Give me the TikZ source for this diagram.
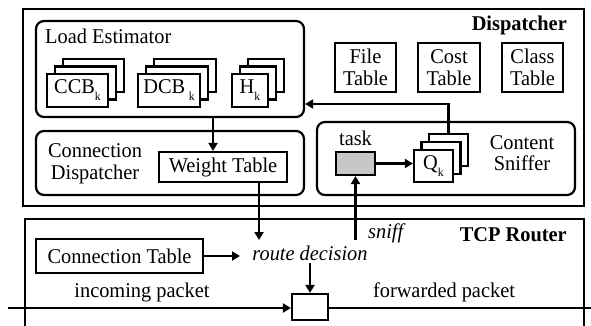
\documentclass[tikz,border=0pt]{standalone}
\usepackage{fontspec}
\setmainfont[FakeStretch=0.97]{Liberation Serif}
\usetikzlibrary{arrows.meta}
\newcommand{\subk}{\raisebox{-7pt}{\fontsize{12}{12}\selectfont k}}
\tikzset{
  every node/.style={font=\fontsize{21}{21.5}\selectfont},
  box/.style={draw, line width=2.2pt, inner sep=0pt, fill=white, align=center},
  rbox/.style={box, rounded corners=8pt},
  lbl/.style={inner sep=0pt, align=center},
  arr/.style={-{Triangle[length=8pt,width=9pt]}, line width=2.2pt},
  ln/.style={line width=2.2pt},
}
\begin{document}
\begin{tikzpicture}[x=1pt,y=-1pt]
\useasboundingbox (0,0) rectangle (591,325);
% Dispatcher
\node[box, minimum width=561pt, minimum height=197pt] (disp) at (303.5,107.5) {};
\node[lbl, anchor=base east, font=\fontsize{21}{21.5}\selectfont\bfseries] (disptxt) at (567,30) {Dispatcher};
% Load estimator
\node[rbox, minimum width=268pt, minimum height=96pt] (load) at (170,69) {};
\node[lbl, anchor=base west] (loadtxt) at (45,43) {Load Estimator};
% stacked boxes
\foreach \name/\cx/\w/\t in {ccb/77.5/61/{CCB\subk}, dcb/169/62/{DCB\,\subk}, hk/250/36/{H\subk}}{
  \node[box, minimum width=\w pt, minimum height=33pt] (\name3) at (\cx+16,75.5) {};
  \node[box, minimum width=\w pt, minimum height=33pt] (\name2) at (\cx+8,83) {};
  \node[box, minimum width=\w pt, minimum height=33pt] (\name1) at (\cx,90.5) {\t};
}
% tables
\node[box, minimum width=61pt, minimum height=49pt] (file) at (365.5,67.5) {File\\Table};
\node[box, minimum width=62pt, minimum height=49pt] (cost) at (449,67.5) {Cost\\Table};
\node[box, minimum width=61pt, minimum height=49pt] (class) at (532.5,67.5) {Class\\Table};
% Connection dispatcher
\node[rbox, minimum width=268pt, minimum height=64pt] (conn) at (170,163) {};
\node[lbl] (conntxt) at (95,164) {Connection\\Dispatcher};
\node[box, minimum width=128pt, minimum height=30pt] (wt) at (223,167) {Weight Table};
% Content sniffer
\node[rbox, minimum width=258pt, minimum height=73pt] (sniff) at (446,158.5) {};
\node[lbl] (snifftxt) at (522,153) {Content\\Sniffer};
\node[lbl, anchor=base] (tasktxt) at (355.5,145) {task};
\node[box, fill=black!22, minimum width=39pt, minimum height=23pt] (task) at (355.5,163.5) {};
\node[box, minimum width=39pt, minimum height=32pt] (q3) at (448.5,150) {};
\node[box, minimum width=39pt, minimum height=32pt] (q2) at (441,158) {};
\node[box, minimum width=39pt, minimum height=32pt] (q1) at (433.5,166) {Q\subk};
% arrows inside dispatcher
\draw[arr] (load.south -| 213,0) -- (wt.north -| 213,0);
\draw[arr] (task.east) -- (task.east -| q1.west);
\coordinate (qturn) at (448.5,104);
\draw[arr] (q3.north) -- (qturn) -- (qturn -| load.east);
% TCP router
\draw[ln] (25,326) -- (25,219) -- (584,219) -- (584,326);
\node[lbl, anchor=base east, font=\fontsize{21}{21.5}\selectfont\bfseries] (tcptxt) at (567,241) {TCP Router};
\node[box, minimum width=167pt, minimum height=34pt] (ct) at (119.5,256) {Connection Table};
\node[lbl, anchor=base, font=\fontsize{21}{21.5}\selectfont\itshape] (rd) at (310,260) {route decision};
\node[lbl, anchor=base west, font=\fontsize{21}{21.5}\selectfont\itshape] (snifflbl) at (368,238) {sniff};
\node[box, minimum width=36pt, minimum height=26pt] (pkt) at (310,307) {};
\node[lbl, anchor=base] (intxt) at (142,297) {incoming packet};
\node[lbl, anchor=base] (fwtxt) at (444,297) {forwarded packet};
\coordinate (rdtop) at (259,240);
\coordinate (sniffbot) at (355.5,240);
\coordinate (linein) at (8,308);
\coordinate (lineout) at (592,308);
\draw[arr] (wt.south -| rdtop) -- (rdtop);
\draw[arr] (sniffbot) -- (task.south);
\draw[arr] (ct.east) -- (ct.east -| 240,0);
\draw[arr] (rd.south) ++(0,3) -- (pkt.north);
\draw[arr] (linein) -- (linein -| pkt.west);
\draw[ln] (pkt.east |- lineout) -- (lineout);
\end{tikzpicture}
\end{document}
